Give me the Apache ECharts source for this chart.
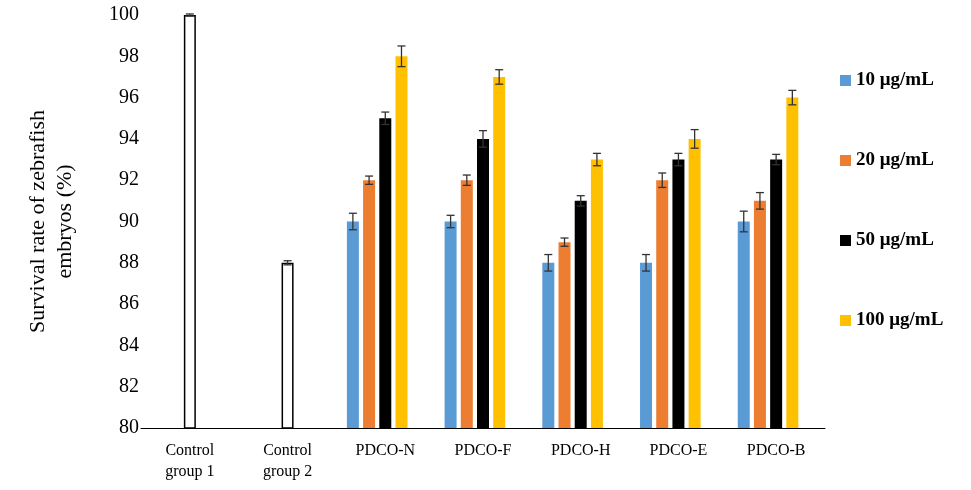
<!DOCTYPE html>
<html>
<head>
<meta charset="utf-8">
<script src="https://cdn.jsdelivr.net/npm/echarts@6/dist/echarts.min.js"></script>
<style>html,body{margin:0;background:#fff}#c{width:971px;height:490px}</style>
</head>
<body>
<div id="c"></div>
<script>
var categories = ['Control\ngroup 1', 'Control\ngroup 2', 'PDCO-N', 'PDCO-F', 'PDCO-H', 'PDCO-E', 'PDCO-B'];
var controlVals = [100, 88, null, null, null, null, null];
var controlErr = [0.05, 0.1, null, null, null, null, null];
var names = ['10 μg/mL', '20 μg/mL', '50 μg/mL', '100 μg/mL'];
var colors = ['#5B9BD5', '#ED7D31', '#000000', '#FFC000'];
var vals = [
  [null, null, 90, 90, 88, 88, 90],
  [null, null, 92, 92, 89, 92, 91],
  [null, null, 95, 94, 91, 93, 93],
  [null, null, 98, 97, 93, 94, 96]
];
var errs = [
  [null, null, 0.4, 0.3, 0.4, 0.4, 0.5],
  [null, null, 0.2, 0.25, 0.2, 0.35, 0.4],
  [null, null, 0.3, 0.4, 0.25, 0.3, 0.25],
  [null, null, 0.5, 0.35, 0.3, 0.45, 0.35]
];

function errSeries(values, errors, offset, axisIdx) {
  var data = values.map(function (v, i) { return v == null ? null : [i, v, errors[i]]; }).filter(Boolean);
  return {
    type: 'custom', xAxisIndex: axisIdx, data: data, z: 10,
    renderItem: function (params, api) {
      var hi = api.coord([api.value(0), api.value(1) + api.value(2)]);
      var lo = api.coord([api.value(0), api.value(1) - api.value(2)]);
      var x = hi[0] + offset, w = 4;
      var st = { stroke: '#333', lineWidth: 1.3 };
      return { type: 'group', children: [
        { type: 'line', shape: { x1: x, y1: hi[1], x2: x, y2: lo[1] }, style: st },
        { type: 'line', shape: { x1: x - w, y1: hi[1], x2: x + w, y2: hi[1] }, style: st },
        { type: 'line', shape: { x1: x - w, y1: lo[1], x2: x + w, y2: lo[1] }, style: st }
      ]};
    }
  };
}

var series = [];
names.forEach(function (n, i) {
  series.push({ name: n, type: 'bar', xAxisIndex: 0, data: vals[i], barWidth: 12, barGap: '35%',
    itemStyle: { color: colors[i] } });
});
series.push({ name: 'pad', type: 'bar', xAxisIndex: 0, data: [null, null, null, null, null, null, null], barWidth: 12 });
series.push({ name: 'control', type: 'bar', xAxisIndex: 1, data: controlVals, barWidth: 12,
  itemStyle: { color: '#fff', borderColor: '#000', borderWidth: 1.5 } });
names.forEach(function (n, i) {
  series.push(errSeries(vals[i], errs[i], (i - 2) * 16.2, 0));
});
series.push(errSeries(controlVals, controlErr, 0, 1));

var chart = echarts.init(document.getElementById('c'));
chart.setOption({
  animation: false,
  textStyle: { fontFamily: 'Liberation Serif' },
  grid: { left: 141, right: 146, top: 15, bottom: 62 },
  legend: {
    data: names, orient: 'vertical', left: 835, top: 66, itemGap: 61,
    itemWidth: 11, itemHeight: 11, icon: 'rect',
    textStyle: { fontFamily: 'Liberation Serif', fontWeight: 'bold', fontSize: 19, color: '#000' }
  },
  xAxis: [
    { type: 'category', data: categories,
      axisLine: { lineStyle: { color: '#000' } }, axisTick: { show: false },
      axisLabel: { fontSize: 16, color: '#000', lineHeight: 21, margin: 12 } },
    { type: 'category', data: categories, show: false }
  ],
  yAxis: {
    type: 'value', min: 80, max: 100, interval: 2,
    name: 'Survival rate of zebrafish\nembryos (%)', nameLocation: 'middle', nameGap: 62, nameRotate: 90,
    nameTextStyle: { fontSize: 22, color: '#000', lineHeight: 27 },
    axisLine: { show: false }, axisTick: { show: false }, splitLine: { show: false },
    axisLabel: { fontSize: 20, color: '#000', margin: 2 }
  },
  series: series
});
</script>
</body>
</html>
